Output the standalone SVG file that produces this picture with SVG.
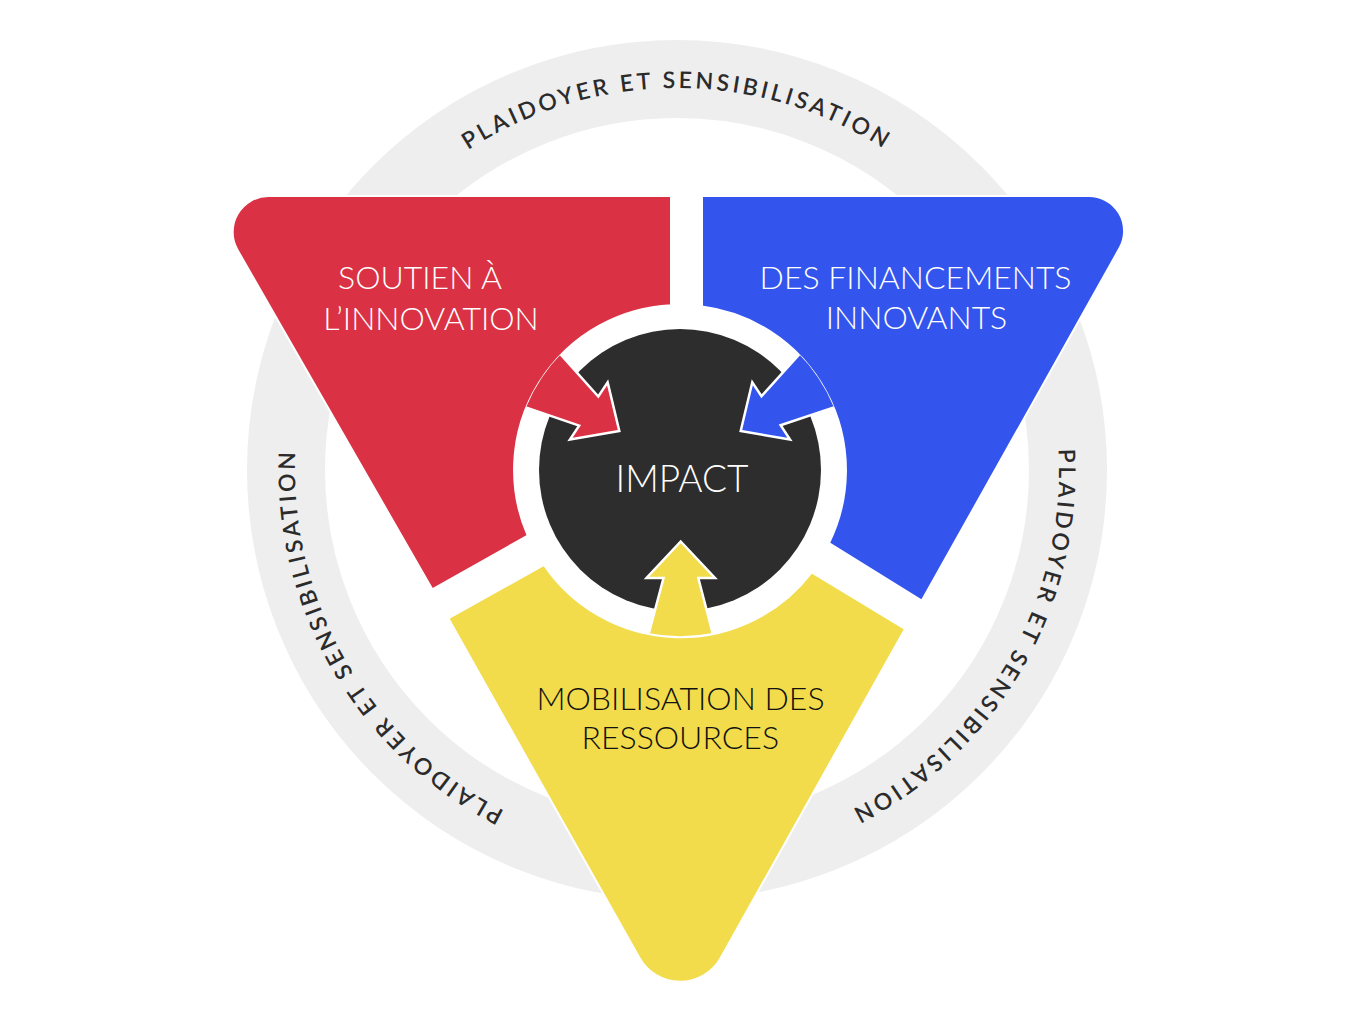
<svg xmlns="http://www.w3.org/2000/svg" width="1360" height="1025" viewBox="0 0 1360 1025">
  <style>
    .band { fill: none; stroke: #EEEEEE; stroke-width: 78; }
    .ringtext { font-family: "Lato", "Liberation Sans", sans-serif; font-size: 23px; font-weight: 600; letter-spacing: 3.3px; fill: #2B2B2B; }
    .piece { stroke: #FFFFFF; stroke-width: 2; stroke-linejoin: miter; }
    .red { fill: #DA3244; }
    .blue { fill: #3355EE; }
    .yellow { fill: #F2DC4B; }
    .label { font-family: "Lato", "Liberation Sans", sans-serif; font-size: 32px; font-weight: 300; text-anchor: middle; }
    .light { fill: #FFFFFF; }
    .dark { fill: #111111; }
    .arrow { stroke: #FFFFFF; stroke-width: 2.5; stroke-linejoin: miter; }
  </style>
  <defs>
    <path id="ringpath" d="M 677 852 A 382 382 0 0 1 677 88 A 382 382 0 0 1 677 852"/>
    <path id="arrowshape" d="M 680.7 541.5 L 715 578 L 698.3 578 L 719.6 660 L 641.8 660 L 663.5 578 L 646.5 578 Z"/>
    <clipPath id="gapclip" clipPathUnits="userSpaceOnUse">
      <circle cx="680" cy="470" r="166.2"/>
    </clipPath>
  </defs>

  <g id="plaidoyer">
    <circle class="band" cx="677" cy="470" r="391"/>
    <text class="ringtext"><textPath href="#ringpath" startOffset="50%" text-anchor="middle">PLAIDOYER ET SENSIBILISATION</textPath></text>
    <text class="ringtext"><textPath href="#ringpath" startOffset="83.333%" text-anchor="middle">PLAIDOYER ET SENSIBILISATION</textPath></text>
    <text class="ringtext"><textPath href="#ringpath" startOffset="16.667%" text-anchor="middle">PLAIDOYER ET SENSIBILISATION</textPath></text>
  </g>

  <g id="soutien">
    <path class="piece red" d="M 671 196 L 268.7 196 A 36 36 0 0 0 237.5 250 L 432.3 589.3 L 527.7 535.7 A 165 165 0 0 1 671 305.2 Z"/>
    <text class="label light" x="420" y="289">SOUTIEN À</text>
    <text class="label light" x="431" y="330">L’INNOVATION</text>
  </g>

  <g id="financements">
    <path class="piece blue" d="M 702 196 L 1089.1 196 A 35 35 0 0 1 1119.6 248.1 L 921.7 600.7 L 829 543 A 165 165 0 0 0 702 306.5 Z"/>
    <text class="label light" x="915.5" y="289">DES FINANCEMENTS</text>
    <text class="label light" x="916.5" y="329">INNOVANTS</text>
  </g>

  <g id="mobilisation">
    <path class="piece yellow" d="M 448.3 618.3 L 544 565 A 165 165 0 0 0 811.7 572.3 L 905 629 L 720.7 957.9 A 46.5 46.5 0 0 1 639.5 958 Z"/>
    <text class="label dark" x="680.5" y="710">MOBILISATION DES</text>
    <text class="label dark" x="680.3" y="749">RESSOURCES</text>
  </g>

  <g id="impact">
    <circle cx="680" cy="470" r="141" fill="#2D2D2D"/>
    <text class="label light" x="682" y="492" style="font-size:37px">IMPACT</text>
  </g>

  <g id="connectors" clip-path="url(#gapclip)">
    <use href="#arrowshape" class="arrow yellow"/>
    <use href="#arrowshape" class="arrow red" transform="translate(619.3 431) rotate(123.4) translate(-680.7 -541.5)"/>
    <use href="#arrowshape" class="arrow blue" transform="translate(740.7 431) rotate(-123.4) translate(-680.7 -541.5)"/>
  </g>
</svg>
